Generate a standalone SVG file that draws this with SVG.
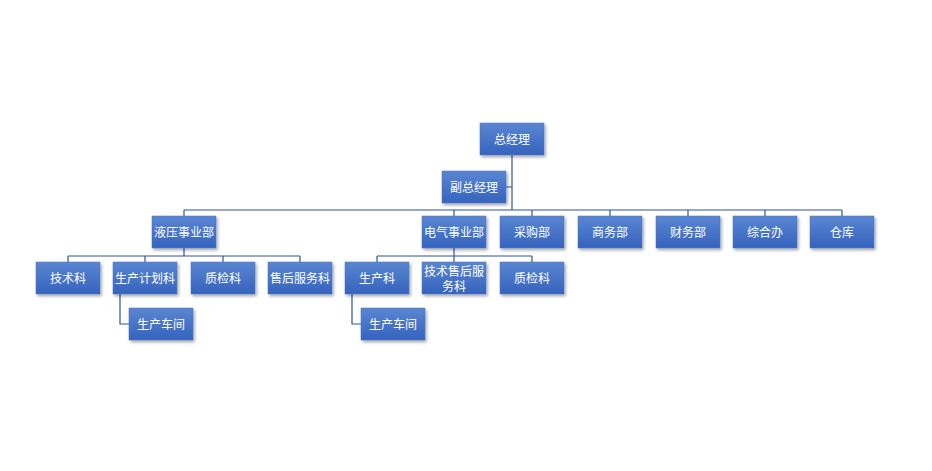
<svg xmlns="http://www.w3.org/2000/svg" width="932" height="471" viewBox="0 0 932 471">
<defs>
<linearGradient id="g" x1="0" y1="0" x2="0" y2="1"><stop offset="0" stop-color="#5a86d2"/><stop offset="1" stop-color="#3563bd"/></linearGradient>
<filter id="s" x="-20%" y="-20%" width="150%" height="160%"><feDropShadow dx="1.5" dy="2" stdDeviation="1.5" flood-color="#000" flood-opacity="0.35"/></filter>
</defs>
<style>
.b{fill:url(#g);stroke:#4a74c4;stroke-width:0.5;filter:url(#s)}
.t{font-family:"Noto Sans CJK SC","Liberation Sans",sans-serif;font-size:12px;fill:#fff;text-anchor:middle;dominant-baseline:central}
.c{fill:none;stroke:#2f5597;stroke-width:1.2}
</style>
<rect width="932" height="471" fill="#fff"/>
<g id="connectors">
<path class="c" d="M512 155V210M506 187H512M184 210H842M184 210V216M454 210V216M532 210V216M610 210V216M688 210V216M765 210V216M842 210V216"/>
<path class="c" d="M184 248V256M68 256H300M68 256V262M145 256V262M223 256V262M300 256V262M120 294V324H129"/>
<path class="c" d="M454 248V256M377 256H532M377 256V262M454 256V262M532 256V262M352 294V324H361"/>
</g>
<g id="n1"><rect class="b" x="480" y="123" width="64" height="32"/><text class="t" x="512" y="138">总经理</text></g>
<g id="n2"><rect class="b" x="442" y="171" width="64" height="32"/><text class="t" x="474" y="186">副总经理</text></g>
<g id="n3"><rect class="b" x="152" y="216" width="64" height="32"/><text class="t" x="184" y="231">液压事业部</text></g>
<g id="n4"><rect class="b" x="422" y="216" width="64" height="32"/><text class="t" x="454" y="231">电气事业部</text></g>
<g id="n5"><rect class="b" x="500" y="216" width="64" height="32"/><text class="t" x="532" y="231">采购部</text></g>
<g id="n6"><rect class="b" x="578" y="216" width="64" height="32"/><text class="t" x="610" y="231">商务部</text></g>
<g id="n7"><rect class="b" x="656" y="216" width="64" height="32"/><text class="t" x="688" y="231">财务部</text></g>
<g id="n8"><rect class="b" x="733" y="216" width="64" height="32"/><text class="t" x="765" y="231">综合办</text></g>
<g id="n9"><rect class="b" x="810" y="216" width="64" height="32"/><text class="t" x="842" y="231">仓库</text></g>
<g id="n10"><rect class="b" x="36" y="262" width="64" height="32"/><text class="t" x="68" y="277">技术科</text></g>
<g id="n11"><rect class="b" x="113" y="262" width="64" height="32"/><text class="t" x="145" y="277">生产计划科</text></g>
<g id="n12"><rect class="b" x="191" y="262" width="64" height="32"/><text class="t" x="223" y="277">质检科</text></g>
<g id="n13"><rect class="b" x="268" y="262" width="64" height="32"/><text class="t" x="300" y="277">售后服务科</text></g>
<g id="n14"><rect class="b" x="345" y="262" width="64" height="32"/><text class="t" x="377" y="277">生产科</text></g>
<g id="n15"><rect class="b" x="422" y="262" width="64" height="32"/><text class="t" x="454" y="270">技术售后服</text><text class="t" x="454" y="285">务科</text></g>
<g id="n16"><rect class="b" x="500" y="262" width="64" height="32"/><text class="t" x="532" y="277">质检科</text></g>
<g id="n17"><rect class="b" x="129" y="308" width="64" height="32"/><text class="t" x="161" y="323">生产车间</text></g>
<g id="n18"><rect class="b" x="361" y="308" width="64" height="32"/><text class="t" x="393" y="323">生产车间</text></g>
</svg>
